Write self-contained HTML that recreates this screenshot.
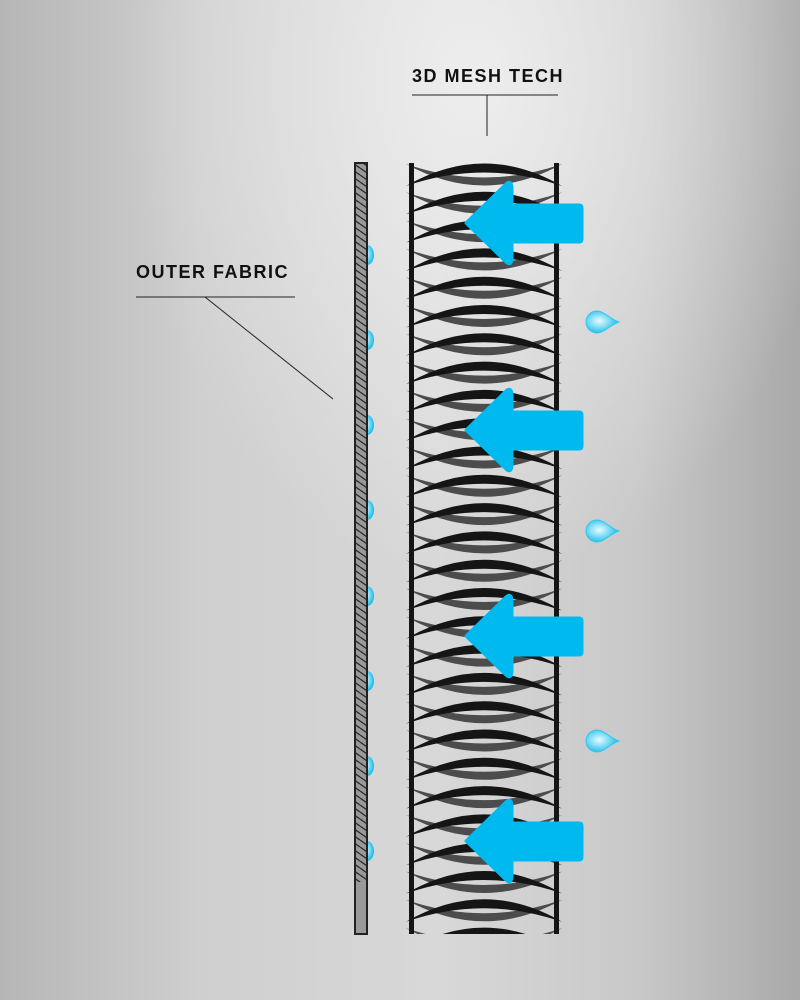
<!DOCTYPE html>
<html><head><meta charset="utf-8"><style>
html,body{margin:0;padding:0}
body{width:800px;height:1000px;overflow:hidden;background:radial-gradient(ellipse 360px 500px at 480px 80px,rgba(240,240,240,0.9) 0%,rgba(240,240,240,0) 100%),linear-gradient(90deg,#b6b6b6 0%,#cfcfcf 25%,#d8d8d8 55%,#c8c8c8 80%,#a9a9a9 100%);}
svg{position:absolute;left:0;top:0}
text{font-family:"Liberation Sans",sans-serif;font-weight:bold;font-size:18px;fill:#111;letter-spacing:1.5px}
</style></head><body>
<svg width="800" height="1000" viewBox="0 0 800 1000" xmlns="http://www.w3.org/2000/svg">
<defs>
<pattern id="h" width="10" height="7" patternUnits="userSpaceOnUse">
<rect width="10" height="7" fill="#999"/>
<path d="M0,0 L10,7 M0,-7 L10,0 M0,7 L10,14" stroke="#2a2a2a" stroke-width="1.3"/>
</pattern>
<radialGradient id="d" cx="0.4" cy="0.45" r="0.6">
<stop offset="0" stop-color="#e8fbff"/><stop offset="0.5" stop-color="#7fdcf5"/><stop offset="1" stop-color="#1ab8e6"/>
</radialGradient>
<clipPath id="c"><rect x="405" y="163" width="158" height="771"/></clipPath>
</defs>
<text x="412" y="82">3D MESH TECH</text>
<line x1="412" y1="95" x2="558" y2="95" stroke="#222" stroke-width="1"/>
<line x1="487" y1="95" x2="487" y2="136" stroke="#222" stroke-width="1"/>
<text x="136" y="278">OUTER FABRIC</text>
<line x1="136" y1="297" x2="295" y2="297" stroke="#222" stroke-width="1"/>
<line x1="205" y1="297" x2="333" y2="399" stroke="#222" stroke-width="1"/>
<g id="drops1"></g>
<rect x="355" y="163" width="12" height="771" fill="#9a9a9a" stroke="#222" stroke-width="2"/>
<rect x="356" y="164" width="10" height="718" fill="url(#h)"/>
<g id="mesh" clip-path="url(#c)"></g>
<rect x="409" y="163" width="5" height="771" fill="#151515"/>
<rect x="554" y="163" width="5" height="771" fill="#151515"/>
<g id="arrows" fill="#00b9ef"></g>
<g id="drops2"></g>
</svg>
<script>
var m=document.getElementById('mesh'),s='';
for(var y=163;y<934;y+=28.3){
 var L=406,R=562,C=484;
 s+='<path d="M'+L+','+(y+1)+' Q'+C+','+(y+44)+' '+R+','+(y+1)+' Q'+C+','+(y+28)+' '+L+','+(y+1)+'Z" fill="#4c4c4c"/>';
 s+='<path d="M'+L+','+(y+23)+' Q'+C+','+(y-22)+' '+R+','+(y+23)+' Q'+C+','+(y-4)+' '+L+','+(y+23)+'Z" fill="#151515"/>';
}
m.innerHTML=s;
var ar='';
[223,430,636,841].forEach(function(c){
 ar+='<path d="M466,'+c+' L507,'+(c-40)+' Q512,'+(c-43)+' 512,'+(c-34)+' L512,'+(c-18)+' L579,'+(c-18)+' Q582,'+(c-18)+' 582,'+(c-15)+' L582,'+(c+16)+' Q582,'+(c+19)+' 579,'+(c+19)+' L512,'+(c+19)+' L512,'+(c+34)+' Q512,'+(c+43)+' 507,'+(c+40)+' Z" stroke="#00b9ef" stroke-width="3" stroke-linejoin="round"/>';
});
document.getElementById('arrows').innerHTML=ar;
var d1='';
[255,340,425,510,596,681,766,851].forEach(function(y){
 d1+='<ellipse cx="367" cy="'+y+'" rx="7" ry="10" fill="url(#d)"/>';
});
document.getElementById('drops1').innerHTML=d1;
var d2='';
[322,531,741].forEach(function(y){
 d2+='<path d="M597,'+(y-11)+' C604,'+(y-11)+' 610,'+(y-3)+' 619,'+y+' C610,'+(y+3)+' 604,'+(y+11)+' 597,'+(y+11)+' A11,11 0 0 1 597,'+(y-11)+'Z" fill="url(#d)" stroke="#2fc8f0" stroke-width="1"/>';
});
document.getElementById('drops2').innerHTML=d2;
</script>
</body></html>
